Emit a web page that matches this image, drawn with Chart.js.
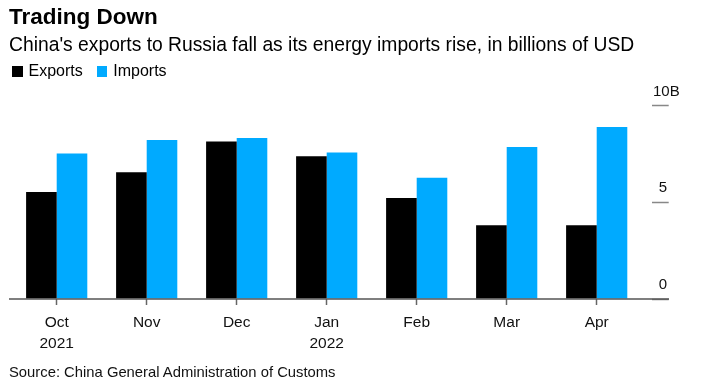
<!DOCTYPE html>
<html>
<head>
<meta charset="utf-8">
<script src="https://cdn.jsdelivr.net/npm/chart.js@4/dist/chart.umd.min.js"></script>
<style>
    body { margin: 0; background: #fff; font-family: 'Liberation Sans', Arial, sans-serif; color: #000; }
    #wrap { position: relative; width: 714px; height: 389px; overflow: hidden; }
    #wrap canvas { position: absolute; left: 0; top: 0; }
    .title { position: absolute; left: 9px; top: 3px; font-size: 22.5px; font-weight: bold; line-height: 28px; white-space: nowrap; }
    .subtitle { position: absolute; left: 9px; top: 33px; font-size: 19.3px; line-height: 23px; white-space: nowrap; }
    .legend { position: absolute; left: 12px; top: 61px; font-size: 16px; line-height: 20px; white-space: nowrap; }
    .legend span.box { display: inline-block; width: 10.5px; height: 11px; margin-right: 6px; vertical-align: -1px; }
    .legend span.item { margin-right: 14px; }
    .source { position: absolute; left: 9px; top: 363px; font-size: 14.8px; line-height: 18px; white-space: nowrap; color: #111; }
</style>
</head>
<body>
<div id="wrap">
    <canvas id="barChart"></canvas>
    <div class="title">Trading Down</div>
    <div class="subtitle">China's exports to Russia fall as its energy imports rise, in billions of USD</div>
    <div class="legend" id="legend"></div>
    <div class="source">Source: China General Administration of Customs</div>
</div>
<script>
// Data (billions of USD)
const months = [['Oct', '2021'], 'Nov', 'Dec', ['Jan', '2022'], 'Feb', 'Mar', 'Apr'];
const exportsData = [5.53, 6.56, 8.15, 7.39, 5.23, 3.82, 3.82];
const importsData = [7.53, 8.22, 8.33, 7.58, 6.27, 7.86, 8.90];
const yTicks = [0, 5, 10];
const yTickLabels = ['0   ', '5   ', '10B'];

const exportColor = '#000000';
const importColor = '#00aaff';

// Build the legend
const legendEl = document.getElementById('legend');
[['Exports', exportColor], ['Imports', importColor]].forEach(([name, color]) => {
    const item = document.createElement('span');
    item.className = 'item';
    item.innerHTML = `<span class="box" style="background:${color}"></span>${name}`;
    legendEl.appendChild(item);
});

// Baseline running under the bars and into the axis
const baseline = {
    id: 'baseline',
    afterDatasetsDraw(chart) {
        const ctx = chart.ctx;
        const y = chart.scales.y.getPixelForValue(0);
        ctx.save();
        ctx.strokeStyle = '#555';
        ctx.lineWidth = 1.5;
        ctx.beginPath();
        ctx.moveTo(9, y);
        ctx.lineTo(669, y);
        ctx.stroke();
        ctx.restore();
    }
};

const ctx = document.getElementById('barChart').getContext('2d');
new Chart(ctx, {
    type: 'bar',
    data: {
        labels: months,
        datasets: [
            {
                label: 'Exports',
                data: exportsData,
                backgroundColor: exportColor,
                categoryPercentage: 0.68,
                barPercentage: 1
            },
            {
                label: 'Imports',
                data: importsData,
                backgroundColor: importColor,
                categoryPercentage: 0.68,
                barPercentage: 1
            }
        ]
    },
    options: {
        responsive: true,
        maintainAspectRatio: false,
        animation: false,
        layout: {
            padding: { left: 11.7, right: 45.3, top: 105.7, bottom: 27.7 }
        },
        plugins: {
            legend: { display: false },
            tooltip: { enabled: false }
        },
        scales: {
            x: {
                grid: {
                    drawOnChartArea: false,
                    offset: false,
                    tickLength: 6,
                    tickColor: '#666',
                    tickWidth: 1.5
                },
                border: { display: false },
                ticks: {
                    color: '#111',
                    padding: 8,
                    maxRotation: 0,
                    autoSkip: false,
                    font: { family: "'Liberation Sans', Arial, sans-serif", size: 15.5, lineHeight: 1.3 }
                }
            },
            y: {
                position: 'right',
                min: 0,
                max: 10,
                afterBuildTicks: function(scale) {
                    scale.ticks = yTicks.map(v => ({ value: v }));
                },
                afterFit: function(scale) {
                    scale.width = 27;
                },
                grid: {
                    drawOnChartArea: false,
                    tickLength: 27,
                    tickColor: '#888',
                    tickWidth: 1.5,
                    tickBorderDash: [0, 10, 17, 10]
                },
                border: { display: false },
                ticks: {
                    mirror: true,
                    padding: 38,
                    labelOffset: -14,
                    color: '#111',
                    font: { family: "'Liberation Sans', Arial, sans-serif", size: 15 },
                    callback: function(value) {
                        return yTickLabels[yTicks.indexOf(value)];
                    }
                }
            }
        }
    },
    plugins: [baseline]
});
</script>
</body>
</html>
